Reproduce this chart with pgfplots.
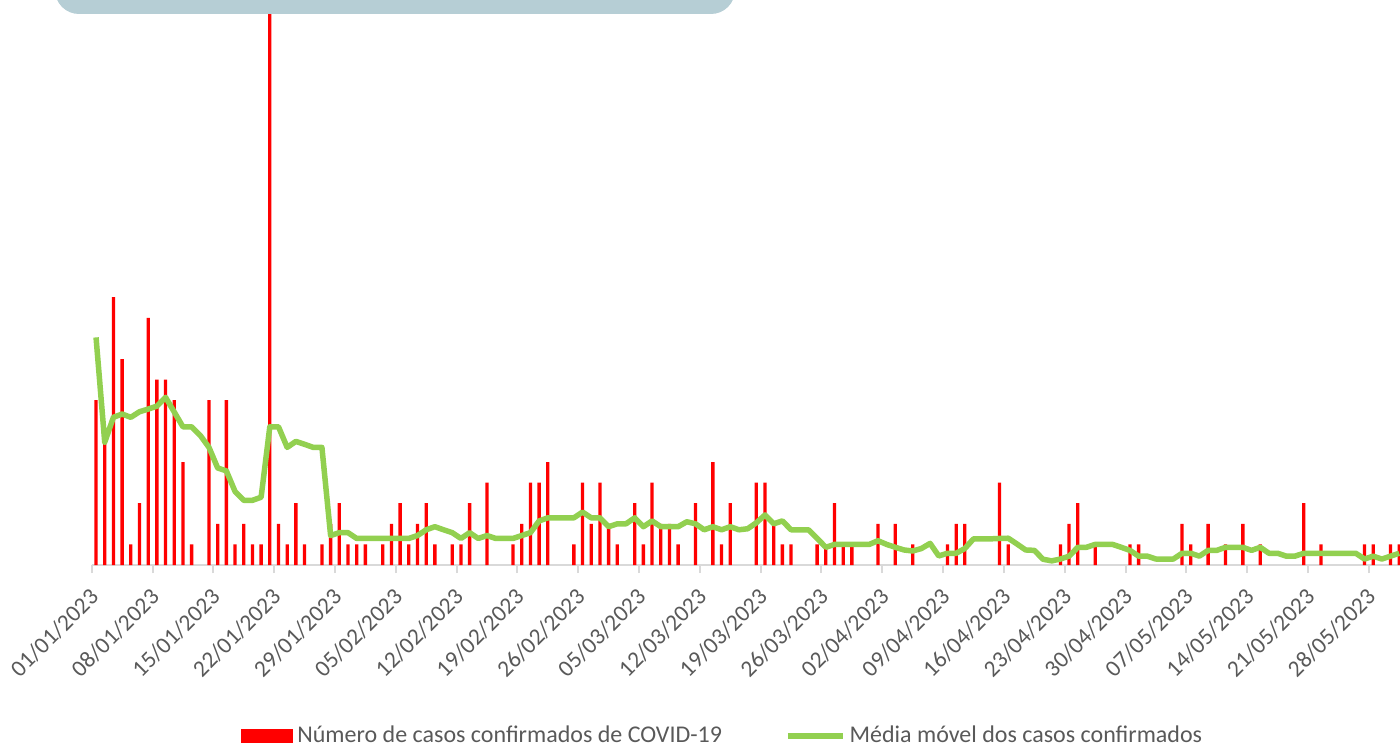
\documentclass[border=0pt]{standalone}
\usepackage{pgfplots}
\pgfplotsset{compat=1.18}
\usepackage{pgfplotstable}
\usepackage{fontspec}
\setmainfont{Carlito}
\definecolor{barred}{RGB}{255,0,0}
\definecolor{magreen}{RGB}{146,208,80}
\definecolor{txtgray}{RGB}{89,89,89}
\definecolor{axgray}{RGB}{217,217,217}
\definecolor{boxblue}{RGB}{182,206,213}

\pgfplotstableread{
d v
0 8
1 6
2 13
3 10
4 1
5 3
6 12
7 9
8 9
9 8
10 5
11 1
13 8
14 2
15 8
16 1
17 2
18 1
19 1
20 32
21 2
22 1
23 3
24 1
26 1
27 2
28 3
29 1
30 1
31 1
33 1
34 2
35 3
36 1
37 2
38 3
39 1
41 1
42 1
43 3
45 4
48 1
49 2
50 4
51 4
52 5
55 1
56 4
57 2
58 4
59 2
60 1
62 3
63 1
64 4
65 2
66 2
67 1
69 3
71 5
72 1
73 3
76 4
77 4
78 2
79 1
80 1
83 1
84 1
85 3
86 1
87 1
90 2
92 2
94 1
98 1
99 2
100 2
104 4
105 1
111 1
112 2
113 3
115 1
119 1
120 1
125 2
126 1
128 2
130 1
132 2
134 1
139 3
141 1
146 1
147 1
149 1
150 1
}\bars

\pgfplotstableread{
d m
0 11.05
1 5.96
2 7.17
3 7.33
4 7.17
5 7.44
6 7.57
7 7.71
8 8.14
9 7.43
10 6.71
11 6.71
12 6.29
13 5.71
14 4.71
15 4.57
16 3.57
17 3.14
18 3.14
19 3.29
20 6.71
21 6.71
22 5.71
23 6.00
24 5.86
25 5.71
26 5.71
27 1.43
28 1.57
29 1.57
30 1.29
31 1.29
32 1.29
33 1.29
34 1.29
35 1.29
36 1.29
37 1.43
38 1.71
39 1.86
40 1.71
41 1.57
42 1.29
43 1.57
44 1.29
45 1.43
46 1.29
47 1.29
48 1.29
49 1.43
50 1.57
51 2.14
52 2.29
53 2.29
54 2.29
55 2.29
56 2.57
57 2.29
58 2.29
59 1.86
60 2.00
61 2.00
62 2.29
63 1.86
64 2.14
65 1.86
66 1.86
67 1.86
68 2.10
69 2.00
70 1.71
71 1.86
72 1.71
73 1.86
74 1.71
75 1.76
76 2.05
77 2.43
78 2.00
79 2.14
80 1.71
81 1.71
82 1.71
83 1.29
84 0.86
85 1.00
86 1.00
87 1.00
88 1.00
89 1.00
90 1.18
91 1.00
92 0.86
93 0.73
94 0.68
95 0.80
96 1.05
97 0.44
98 0.57
99 0.57
100 0.80
101 1.27
102 1.27
103 1.27
104 1.29
105 1.30
106 1.02
107 0.73
108 0.71
109 0.28
110 0.20
111 0.29
112 0.43
113 0.86
114 0.86
115 1.00
116 1.00
117 1.00
118 0.86
119 0.71
120 0.43
121 0.43
122 0.29
123 0.29
124 0.29
125 0.57
126 0.57
127 0.43
128 0.71
129 0.71
130 0.86
131 0.86
132 0.86
133 0.71
134 0.86
135 0.57
136 0.57
137 0.43
138 0.43
139 0.57
140 0.57
141 0.57
142 0.57
143 0.57
144 0.57
145 0.57
146 0.29
147 0.43
148 0.29
149 0.43
150 0.57
}\mavg

\begin{document}
\begin{tikzpicture}
\begin{axis}[
  at={(45.85pt,89.5pt)}, anchor=south west,
  scale only axis, width=654.15pt, height=282.5pt,
  xmin=-0.5, xmax=150.09, ymin=0, ymax=27.43,
  axis x line*=bottom, axis y line=none,
  x axis line style={axgray, line width=1pt, -},
  xtick={-0.5,6.5,...,146.5},
  xticklabels={01/01/2023,08/01/2023,15/01/2023,22/01/2023,29/01/2023,05/02/2023,12/02/2023,19/02/2023,26/02/2023,05/03/2023,12/03/2023,19/03/2023,26/03/2023,02/04/2023,09/04/2023,16/04/2023,23/04/2023,30/04/2023,07/05/2023,14/05/2023,21/05/2023,28/05/2023},
  xtick style={axgray, line width=1pt},
  tick align=outside, major tick length=4pt,
  xticklabel style={rotate=45, anchor=east, font=\fontsize{11.7}{14}\selectfont, text=txtgray, inner sep=0pt, xshift=-6pt, yshift=-8pt},
  ytick=\empty,
  legend style={at={(0.1141,-0.3027)}, anchor=west, draw=none, fill=none,
    font=\fontsize{12}{14}\selectfont, text=txtgray, inner sep=0pt,
    /tikz/every even column/.append style={column sep=29.5pt}},
  legend columns=2,
  legend cell align=left,
]
\addplot[ybar, bar width=1.65pt, fill=barred, draw=none,
  legend image code/.code={\fill[barred] (0pt,-3.5pt) rectangle (26pt,3.5pt);}]
  table[x=d,y=v]{\bars};
\addlegendentry{Número de casos confirmados de COVID-19}
\addplot[magreen, line width=2.75pt, line join=round, no marks,
  legend image code/.code={\draw[magreen, line width=2.75pt] (0pt,0pt) -- (27.5pt,0pt);}]
  table[x=d,y=m]{\mavg};
\addlegendentry{Média móvel dos casos confirmados}
\end{axis}
\fill[boxblue, rounded corners=12pt] (27.5pt,365pt) rectangle (367.5pt,400pt);
\pgfresetboundingbox
\useasboundingbox (0,0) rectangle (700pt,372pt);
\end{tikzpicture}
\end{document}
